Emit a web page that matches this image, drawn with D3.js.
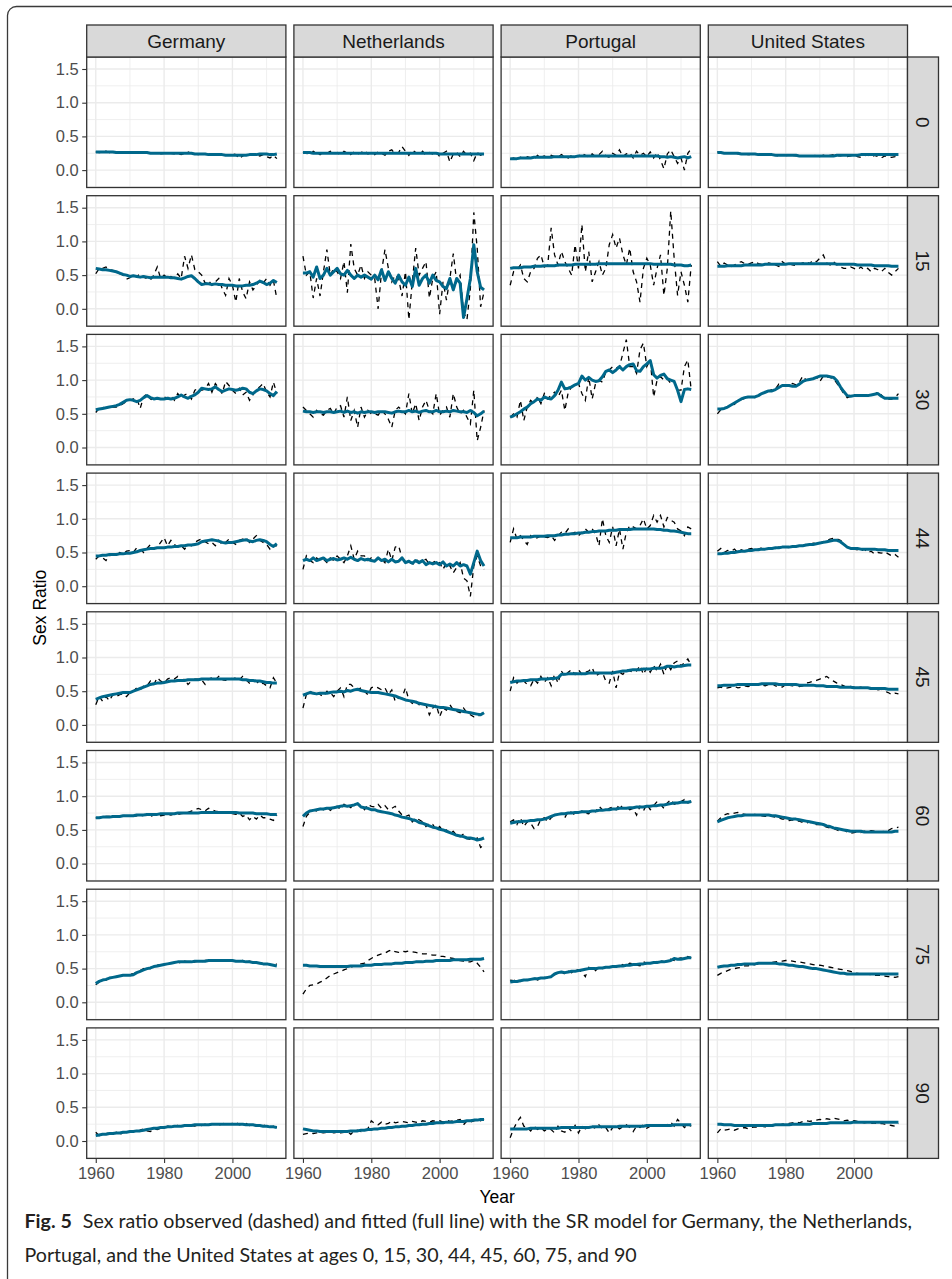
<!DOCTYPE html>
<html>
<head>
  <meta charset="utf-8">
  <title>Fig. 5 - Sex ratio observed and fitted</title>
  <style>
  * {
    margin: 0;
    padding: 0;
  }
  body {
    background: #fff;
  }
  </style>
</head>
<body>
  <script src="https://cdn.jsdelivr.net/npm/d3@7"></script>
  <script>
  var w = 952;
  var h = 1279;

  var countries = ["Germany", "Netherlands", "Portugal", "United States"];
  var ages = ["0", "15", "30", "44", "45", "60", "75", "90"];
  var years = d3.range(1960, 2014);
  var yTicks = [0, 0.5, 1, 1.5];
  var yMinor = [-0.25, 0.25, 0.75, 1.25];
  var xTicks = [1960, 1980, 2000];
  var xMinor = [1970, 1990, 2010];

  // observed sex ratio (dashed), one row per age, 1960..2013
  var obsGermany = [
    [.27,.26,.27,.28,.26,.27,.26,.25,.27,.26, .26,.25,.26,.27,.26,.25,.26,.25,.26,.24, .25,.26,.25,.24,.25,.23,.25,.27,.25,.24, .23,.24,.25,.23,.22,.24,.23,.22,.23,.22, .24,.23,.17,.21,.23,.22,.24,.23,.21,.23, .20,.18,.22,.17],
    [.52,.60,.60,.62,.58,.57,.55,.52,.50,.44, .46,.50,.48,.52,.47,.45,.43,.50,.62,.45, .50,.46,.48,.45,.52,.45,.78,.60,.80,.58, .55,.50,.38,.42,.35,.40,.45,.30,.20,.45, .35,.10,.45,.25,.15,.40,.28,.35,.42,.38, .45,.35,.42,.15],
    [.52,.58,.60,.58,.60,.60,.60,.62,.65,.68, .70,.72,.73,.58,.75,.80,.72,.70,.73,.72, .75,.73,.77,.70,.80,.73,.78,.80,.72,.85, .88,.85,.87,.95,.82,.95,.88,.80,.98,.92, .85,.80,.88,.78,.82,.70,.78,.86,.90,.95, .82,.75,.97,.80],
    [.40,.45,.42,.38,.45,.48,.45,.50,.48,.52, .53,.50,.57,.55,.50,.56,.62,.55,.58,.65, .72,.60,.68,.62,.58,.60,.55,.62,.60,.65, .68,.70,.66,.63,.65,.60,.68,.62,.65,.70, .65,.62,.68,.70,.72,.65,.70,.75,.68,.65, .62,.55,.60,.60],
    [.30,.42,.35,.42,.36,.45,.42,.45,.46,.42, .48,.50,.55,.52,.58,.58,.65,.60,.70,.65, .62,.68,.70,.68,.72,.65,.68,.60,.65,.68, .68,.67,.60,.68,.70,.67,.72,.67,.66,.70, .68,.70,.67,.72,.67,.62,.64,.65,.60,.62, .58,.55,.70,.62],
    [.68,.68,.69,.70,.70,.70,.71,.70,.72,.70, .72,.70,.71,.70,.72,.71,.70,.72,.73,.71, .72,.73,.72,.74,.73,.74,.75,.76,.78,.80, .82,.80,.78,.82,.80,.78,.77,.76,.75,.76, .74,.73,.75,.70,.72,.65,.70,.66,.72,.68, .68,.66,.64,.72],
    [.26,.30,.33,.33,.36,.37,.38,.40,.41,.41, .42,.42,.45,.47,.50,.51,.50,.54,.55,.56, .55,.57,.58,.60,.60,.58,.61,.60,.58,.60, .61,.60,.62,.62,.63,.62,.61,.63,.62,.61, .62,.60,.61,.62,.60,.61,.60,.58,.59,.58, .58,.56,.55,.57],
    [.13,.08,.10,.11,.12,.10,.13,.09,.13,.12, .13,.15,.14,.16,.18,.15,.14,.18,.17,.19, .20,.22,.21,.22,.23,.21,.22,.24,.23,.22, .24,.23,.25,.24,.25,.26,.24,.25,.27,.25, .26,.28,.24,.25,.26,.23,.24,.22,.23,.24, .22,.21,.22,.20]
  ];
  var obsNetherlands = [
    [.27,.25,.22,.28,.26,.23,.27,.25,.28,.24, .26,.22,.28,.25,.23,.27,.24,.26,.29,.24, .26,.23,.27,.25,.22,.28,.30,.24,.26,.35, .28,.22,.30,.26,.24,.28,.22,.26,.24,.27, .20,.25,.28,.12,.24,.26,.20,.28,.22,.25, .14,.26,.22,.24],
    [.78,.50,.55,.16,.45,.19,.55,.88,.50,.60, .55,.45,.70,.24,.96,.60,.50,.65,.45,.55, .50,.45,.00,.55,.88,.60,.40,.50,.45,.19, .55,-.16,.40,.90,.50,.60,.70,.16,.45,.55, -.08,.40,.13,.45,.82,.40,.50,-.05,-.16,.30, 1.43,.90,.03,.25],
    [.60,.55,.50,.45,.55,.50,.48,.55,.58,.50, .60,.62,.45,.75,.40,.55,.30,.60,.45,.55, .50,.50,.48,.55,.50,.42,.30,.55,.60,.55, .50,.80,.50,.65,.40,.60,.70,.55,.50,.80, .48,.55,.60,.45,.80,.60,.50,.55,.45,.35, .85,.10,.30,.55],
    [.25,.45,.38,.35,.42,.38,.40,.35,.42,.38, .45,.40,.35,.45,.60,.40,.52,.45,.45,.38, .42,.38,.40,.40,.35,.55,.38,.58,.60,.42, .35,.38,.30,.42,.35,.38,.40,.32,.35,.38, .35,.25,.35,.30,.20,.28,.35,.12,.08,-.15, .30,.45,.30,.25],
    [.25,.45,.50,.47,.50,.45,.42,.50,.48,.42, .50,.55,.42,.60,.60,.55,.52,.55,.50,.45, .55,.57,.55,.52,.55,.45,.52,.35,.40,.40, .55,.37,.32,.35,.30,.32,.30,.15,.25,.30, .12,.25,.22,.30,.22,.20,.18,.25,.18,.15, .12,.12,.15,.20],
    [.55,.70,.76,.80,.78,.82,.80,.84,.79,.83, .85,.80,.88,.86,.83,.90,.88,.86,.80,.88, .85,.84,.88,.82,.86,.80,.82,.85,.78,.72, .70,.72,.62,.68,.65,.62,.55,.60,.58,.50, .55,.48,.50,.45,.48,.42,.40,.44,.37,.36, .35,.38,.24,.28],
    [.12,.20,.25,.26,.27,.30,.32,.36,.40,.42, .44,.46,.48,.50,.52,.54,.55,.57,.58,.62, .65,.68,.70,.72,.73,.76,.78,.75,.74,.76, .75,.76,.75,.74,.73,.72,.72,.71,.70,.70, .68,.68,.67,.66,.65,.63,.62,.61,.60,.60, .62,.58,.52,.45],
    [.10,.11,.12,.11,.12,.13,.12,.13,.14,.12, .13,.12,.13,.14,.10,.15,.16,.14,.15,.18, .30,.26,.24,.28,.25,.26,.30,.27,.28,.29, .28,.27,.29,.28,.27,.30,.29,.28,.30,.29, .30,.28,.31,.29,.30,.31,.32,.24,.30,.28, .30,.31,.30,.33]
  ];
  var obsPortugal = [
    [.16,.18,.15,.19,.17,.20,.18,.16,.22,.19, .21,.18,.22,.20,.19,.23,.20,.18,.22,.21, .20,.25,.22,.19,.24,.20,.23,.28,.21,.19, .25,.22,.30,.20,.24,.26,.18,.28,.22,.25, .20,.27,.18,.26,.15,.02,.24,.30,.20,.10, .18,.00,.25,.32],
    [.35,.55,.58,.65,.45,.40,.55,.60,.75,.80, .62,.65,1.20,.80,.65,.85,.70,.60,.50,.95, .60,1.25,.55,.85,.40,.55,.70,.50,.60,.95, 1.10,.90,1.05,.80,.65,.90,.55,.40,.10,.60, .75,.65,.35,.60,.80,.20,.60,1.45,.75,.20, .55,.35,.10,.65],
    [.45,.50,.45,.70,.40,.60,.70,.65,.75,.65, .80,.72,.78,.82,.75,.85,.55,.82,.90,.92, .95,.80,.70,1.05,.72,.95,1.00,.97,1.12,1.15, 1.20,1.18,1.20,1.40,1.60,1.20,1.20,1.10,1.45,1.55, 1.20,1.30,.75,1.00,1.05,1.00,1.02,.95,.98,.85, .85,1.20,1.30,.85],
    [.65,.85,.70,.75,.68,.62,.75,.70,.72,.75, .73,.72,.75,.68,.75,.80,.78,.85,.78,.80, .75,.80,.85,.80,.85,.78,.60,1.00,.75,.65, .88,.60,.85,.55,.80,.90,.88,.85,.90,1.00, .85,.90,1.05,.95,1.05,.88,1.02,.98,.95,.85, .82,.75,.88,.85],
    [.50,.70,.62,.68,.65,.60,.58,.68,.62,.72, .63,.70,.58,.75,.62,.80,.72,.78,.82,.75, .82,.75,.78,.80,.85,.72,.76,.78,.65,.62, .80,.55,.78,.75,.82,.80,.78,.80,.88,.75, .85,.78,.88,.80,.90,.75,.90,.82,.92,.95, .88,.92,.98,.88],
    [.62,.65,.58,.68,.55,.62,.60,.52,.55,.66, .68,.62,.68,.72,.74,.73,.68,.78,.76,.72, .75,.78,.75,.74,.80,.77,.85,.80,.78,.82, .84,.80,.88,.82,.84,.80,.82,.72,.85,.78, .88,.80,.86,.92,.88,.82,.90,.95,.88,.90, .92,.95,.90,.92],
    [.33,.32,.35,.31,.36,.33,.34,.37,.33,.35, .37,.36,.39,.41,.43,.45,.42,.46,.44,.48, .48,.45,.38,.52,.50,.47,.53,.50,.52,.54, .52,.55,.53,.56,.54,.58,.57,.55,.54,.60, .58,.60,.58,.61,.62,.60,.62,.64,.62,.65, .66,.64,.68,.66],
    [.05,.18,.28,.35,.22,.20,.15,.22,.17,.20, .15,.18,.17,.12,.22,.15,.13,.20,.14,.23, .12,.22,.18,.20,.21,.19,.24,.18,.20,.12, .20,.22,.18,.21,.24,.20,.14,.22,.20,.24, .19,.22,.21,.23,.25,.22,.24,.28,.22,.32, .26,.20,.24,.22]
  ];
  var obsUnitedStates = [
    [.27,.26,.27,.25,.26,.26,.24,.25,.24,.23, .23,.24,.23,.22,.23,.22,.23,.22,.21,.22, .22,.21,.22,.21,.22,.21,.21,.20,.21,.22, .20,.22,.21,.22,.23,.22,.21,.22,.20,.21, .23,.20,.19,.21,.23,.19,.22,.20,.18,.21, .20,.19,.20,.22],
    [.70,.63,.68,.65,.62,.65,.68,.70,.67,.66, .68,.70,.67,.66,.65,.68,.67,.65,.63,.70, .66,.67,.65,.64,.66,.68,.70,.67,.72,.70, .75,.80,.68,.65,.70,.65,.62,.60,.60,.62, .60,.58,.62,.58,.60,.55,.60,.58,.55,.60, .54,.50,.55,.60],
    [.50,.56,.58,.60,.62,.64,.70,.71,.73,.74, .75,.74,.78,.80,.83,.84,.86,.87,.94,.92, .93,.91,.95,.93,.97,1.06,1.00,1.02,1.03,1.04, .98,1.06,1.05,1.04,1.02,.95,.88,.80,.74,.76, .76,.78,.79,.76,.76,.78,.79,.82,.78,.72, .72,.72,.74,.80],
    [.52,.56,.50,.53,.52,.55,.50,.54,.52,.55, .56,.53,.55,.57,.55,.56,.58,.56,.58,.59, .58,.57,.60,.59,.62,.60,.62,.61,.64,.63, .64,.66,.68,.70,.71,.70,.68,.64,.58,.55, .55,.54,.52,.55,.50,.52,.48,.50,.49,.51, .48,.45,.47,.43],
    [.55,.56,.54,.55,.56,.57,.55,.56,.58,.57, .58,.59,.60,.59,.58,.60,.61,.58,.57,.56, .60,.59,.58,.60,.57,.58,.62,.63,.65,.66, .68,.70,.72,.68,.65,.62,.60,.58,.55,.57, .56,.55,.56,.54,.55,.53,.54,.52,.53,.50, .48,.45,.47,.46],
    [.63,.68,.72,.74,.73,.75,.76,.74,.73,.72, .72,.73,.72,.71,.70,.72,.70,.69,.68,.66, .66,.64,.65,.63,.63,.61,.60,.62,.59,.58, .58,.56,.54,.53,.52,.50,.48,.50,.47,.45, .46,.47,.46,.48,.47,.49,.48,.46,.47,.48, .49,.52,.53,.54],
    [.40,.43,.45,.47,.49,.50,.51,.52,.54,.54, .55,.56,.57,.58,.58,.59,.59,.60,.61,.61, .62,.62,.61,.60,.60,.59,.58,.57,.56,.55, .55,.54,.53,.52,.51,.50,.49,.48,.47,.46, .44,.43,.42,.42,.42,.41,.40,.40,.40,.39, .38,.38,.37,.38],
    [.12,.18,.16,.17,.18,.16,.18,.19,.20,.18, .20,.21,.20,.22,.21,.23,.22,.24,.23,.25, .25,.26,.27,.28,.27,.29,.30,.29,.30,.31, .32,.31,.33,.32,.34,.33,.32,.30,.31,.29, .30,.29,.28,.27,.28,.26,.27,.25,.26,.25, .24,.23,.22,.26]
  ];

  // fitted sex ratio (full line)
  var fitGermany = [
    [.27,.27,.27,.27,.27,.27,.26,.26,.26,.26, .26,.26,.26,.26,.26,.26,.25,.25,.25,.25, .25,.25,.25,.25,.25,.25,.25,.25,.25,.24, .24,.24,.24,.23,.23,.23,.23,.23,.22,.22, .22,.22,.22,.22,.22,.23,.23,.23,.24,.24, .24,.23,.23,.24],
    [.60,.59,.58,.58,.57,.56,.55,.53,.51,.50, .48,.49,.48,.47,.48,.47,.46,.47,.47,.47, .47,.47,.46,.46,.45,.44,.46,.48,.49,.45, .40,.36,.37,.37,.36,.37,.36,.36,.35,.35, .35,.34,.34,.34,.35,.35,.36,.38,.41,.39, .36,.38,.42,.39],
    [.56,.57,.58,.59,.60,.61,.62,.64,.67,.70, .71,.70,.68,.70,.74,.77,.74,.72,.73,.72, .72,.73,.72,.73,.75,.78,.75,.73,.76,.78, .82,.88,.87,.86,.87,.90,.86,.83,.85,.87, .86,.85,.86,.88,.87,.82,.80,.84,.87,.86, .84,.80,.77,.83],
    [.45,.45,.46,.46,.47,.47,.47,.48,.48,.49, .49,.50,.51,.53,.54,.55,.56,.56,.57,.57, .57,.58,.58,.59,.59,.60,.60,.61,.61,.62, .63,.66,.67,.68,.69,.68,.67,.65,.64,.65, .65,.66,.67,.68,.69,.67,.66,.68,.69,.68, .66,.62,.59,.63],
    [.38,.40,.42,.43,.44,.45,.46,.47,.48,.48, .48,.50,.52,.54,.56,.58,.60,.61,.62,.62, .63,.64,.65,.65,.66,.66,.66,.67,.67,.67, .67,.68,.68,.68,.68,.68,.68,.68,.68,.68, .68,.68,.68,.67,.67,.66,.66,.65,.65,.64, .63,.63,.62,.62],
    [.68,.68,.69,.69,.69,.70,.70,.70,.71,.71, .71,.71,.72,.72,.72,.73,.73,.73,.73,.74, .74,.74,.74,.74,.75,.75,.75,.75,.75,.75, .75,.76,.76,.76,.76,.76,.76,.76,.76,.76, .76,.76,.75,.75,.75,.75,.75,.74,.74,.74, .74,.73,.73,.73],
    [.28,.31,.33,.34,.36,.37,.38,.39,.40,.40, .40,.41,.44,.46,.48,.50,.51,.53,.54,.55, .56,.57,.58,.59,.60,.60,.60,.60,.60,.61, .61,.61,.61,.62,.62,.62,.62,.62,.62,.62, .62,.61,.61,.61,.60,.60,.59,.59,.58,.57, .57,.56,.55,.54],
    [.08,.09,.10,.10,.11,.11,.12,.12,.13,.13, .14,.14,.15,.15,.16,.17,.18,.19,.19,.20, .20,.21,.21,.22,.22,.22,.23,.23,.23,.24, .24,.24,.24,.24,.25,.25,.25,.25,.25,.25, .25,.25,.25,.25,.24,.24,.24,.23,.23,.22, .22,.21,.21,.20]
  ];
  var fitNetherlands = [
    [.26,.26,.26,.25,.25,.25,.25,.25,.25,.25, .25,.25,.25,.25,.25,.25,.25,.25,.25,.25, .25,.25,.25,.25,.25,.25,.25,.25,.25,.25, .25,.25,.25,.25,.25,.25,.25,.25,.25,.25, .24,.24,.24,.24,.24,.24,.24,.24,.24,.24, .24,.24,.24,.24],
    [.53,.53,.55,.47,.62,.45,.50,.60,.50,.55, .60,.52,.50,.57,.50,.45,.50,.47,.50,.47, .44,.50,.43,.58,.42,.55,.45,.38,.50,.40, .35,.47,.33,.60,.35,.45,.50,.38,.50,.42, .40,.33,.30,.45,.28,.45,.38,-.13,.15,.45, .95,.55,.32,.28],
    [.54,.53,.53,.52,.53,.53,.52,.53,.53,.52, .53,.54,.52,.54,.52,.53,.51,.53,.52,.53, .53,.52,.53,.53,.53,.52,.51,.53,.54,.53, .53,.55,.53,.54,.52,.54,.55,.53,.53,.55, .53,.53,.54,.53,.55,.54,.53,.53,.52,.55, .52,.47,.50,.54],
    [.38,.40,.38,.42,.38,.40,.42,.38,.40,.41, .39,.40,.42,.40,.43,.40,.38,.41,.39,.40, .38,.37,.42,.38,.40,.36,.40,.36,.37,.42, .35,.37,.34,.38,.35,.38,.32,.35,.33,.35, .32,.36,.30,.33,.30,.35,.30,.32,.30,.18, .35,.52,.38,.30],
    [.44,.46,.48,.47,.46,.47,.47,.47,.48,.49, .49,.50,.49,.51,.50,.52,.53,.51,.50,.49, .48,.48,.48,.47,.46,.45,.44,.43,.41,.39, .37,.36,.35,.34,.32,.31,.30,.29,.28,.27, .26,.26,.25,.24,.23,.22,.21,.20,.19,.18, .17,.16,.15,.18],
    [.70,.75,.78,.79,.80,.81,.81,.82,.82,.83, .84,.85,.86,.85,.86,.87,.89,.84,.83,.82, .80,.80,.78,.77,.76,.75,.74,.72,.71,.69, .68,.67,.65,.64,.61,.60,.58,.56,.54,.53, .51,.50,.48,.46,.44,.42,.41,.40,.38,.38, .37,.35,.36,.38],
    [.55,.55,.54,.54,.54,.53,.53,.53,.53,.53, .53,.53,.53,.53,.54,.54,.54,.54,.55,.55, .55,.56,.56,.56,.57,.57,.57,.58,.58,.58, .59,.59,.59,.60,.60,.60,.61,.61,.61,.62, .62,.62,.62,.62,.63,.63,.63,.63,.63,.64, .64,.64,.64,.65],
    [.18,.17,.16,.15,.15,.14,.14,.14,.14,.14, .14,.14,.14,.14,.15,.15,.15,.16,.16,.17, .17,.18,.18,.19,.19,.20,.20,.21,.21,.22, .22,.23,.23,.24,.24,.25,.25,.26,.26,.27, .27,.27,.28,.28,.28,.29,.29,.29,.30,.30, .31,.31,.32,.32]
  ];
  var fitPortugal = [
    [.17,.17,.17,.18,.18,.18,.18,.19,.19,.19, .19,.19,.19,.20,.20,.20,.20,.20,.20,.20, .21,.21,.21,.21,.21,.21,.21,.21,.21,.21, .21,.21,.21,.21,.21,.21,.21,.21,.21,.21, .21,.21,.21,.21,.20,.20,.19,.20,.19,.18, .19,.20,.18,.20],
    [.60,.61,.61,.61,.62,.62,.62,.63,.63,.63, .64,.64,.64,.64,.65,.65,.65,.65,.65,.66, .66,.66,.66,.66,.66,.66,.67,.67,.67,.67, .67,.67,.67,.67,.67,.67,.67,.67,.67,.67, .67,.67,.66,.66,.66,.66,.66,.66,.65,.65, .65,.64,.64,.65],
    [.45,.47,.50,.53,.57,.60,.65,.68,.72,.70, .75,.73,.72,.77,.85,.97,.87,.88,.90,.93, .95,1.06,1.00,1.04,1.00,.98,.99,1.05,1.13,1.15, 1.11,1.15,1.20,1.15,1.20,1.23,1.24,1.14,1.13,1.20, 1.24,1.29,1.08,1.03,1.07,1.09,1.02,1.00,.98,.85, .68,.86,.87,.86],
    [.72,.72,.72,.73,.73,.73,.73,.74,.74,.74, .74,.75,.75,.75,.76,.76,.77,.77,.78,.78, .79,.79,.80,.80,.81,.81,.82,.82,.82,.83, .83,.83,.84,.84,.84,.84,.85,.85,.85,.85, .85,.85,.85,.84,.84,.83,.83,.82,.82,.81, .80,.79,.78,.78],
    [.63,.64,.65,.65,.66,.66,.67,.67,.67,.68, .68,.68,.69,.69,.70,.75,.75,.76,.76,.76, .76,.76,.76,.77,.77,.77,.77,.77,.77,.77, .77,.78,.79,.80,.80,.81,.82,.82,.82,.83, .83,.83,.84,.84,.84,.85,.87,.87,.86,.87, .87,.88,.89,.89],
    [.60,.61,.62,.62,.63,.63,.64,.64,.65,.65, .66,.68,.70,.72,.73,.74,.74,.75,.75,.76, .76,.77,.77,.77,.78,.78,.79,.79,.80,.80, .81,.81,.82,.82,.82,.83,.83,.84,.84,.84, .85,.85,.86,.86,.87,.87,.88,.89,.90,.90, .91,.91,.91,.92],
    [.30,.31,.31,.32,.33,.33,.34,.35,.35,.36, .36,.37,.38,.42,.44,.45,.44,.45,.46,.46, .47,.48,.49,.50,.50,.50,.51,.51,.52,.52, .53,.53,.54,.54,.55,.55,.56,.56,.57,.57, .58,.58,.59,.59,.60,.60,.61,.62,.65,.64, .64,.65,.66,.66],
    [.18,.18,.18,.18,.18,.18,.19,.19,.19,.19, .19,.19,.19,.19,.19,.20,.20,.20,.20,.20, .20,.20,.20,.20,.21,.21,.21,.21,.21,.21, .21,.21,.22,.22,.22,.22,.22,.22,.22,.22, .23,.23,.23,.23,.23,.23,.23,.23,.24,.24, .24,.24,.24,.24]
  ];
  var fitUnitedStates = [
    [.26,.26,.25,.25,.25,.25,.25,.24,.24,.24, .24,.24,.23,.23,.23,.23,.23,.22,.22,.22, .22,.22,.22,.22,.21,.21,.21,.21,.21,.21, .21,.21,.21,.21,.21,.22,.22,.22,.22,.22, .22,.22,.23,.23,.23,.23,.23,.23,.23,.23, .23,.23,.23,.23],
    [.63,.63,.63,.64,.64,.64,.64,.64,.65,.65, .65,.65,.65,.65,.66,.66,.66,.66,.66,.66, .66,.67,.67,.67,.67,.67,.67,.67,.67,.67, .67,.67,.67,.67,.67,.66,.66,.66,.66,.66, .66,.65,.65,.65,.65,.65,.64,.64,.64,.64, .64,.63,.63,.63],
    [.57,.57,.58,.60,.63,.66,.69,.72,.74,.75, .75,.75,.77,.80,.82,.84,.84,.86,.89,.92, .92,.92,.91,.91,.94,.98,1.00,1.01,1.02,1.04, 1.06,1.06,1.06,1.05,1.04,.99,.90,.83,.77,.76, .77,.77,.77,.77,.77,.78,.79,.80,.76,.73, .73,.73,.73,.73],
    [.48,.48,.49,.49,.50,.50,.51,.52,.52,.53, .53,.54,.54,.55,.55,.56,.56,.57,.57,.58, .58,.58,.59,.59,.60,.60,.61,.62,.62,.63, .64,.65,.66,.67,.68,.68,.66,.62,.58,.56, .56,.56,.55,.55,.55,.55,.55,.54,.54,.54, .53,.53,.53,.53],
    [.58,.58,.59,.59,.59,.59,.60,.60,.60,.60, .60,.60,.60,.61,.61,.61,.61,.61,.60,.60, .60,.60,.60,.60,.59,.59,.59,.59,.59,.58, .58,.58,.57,.57,.57,.57,.56,.56,.56,.56, .55,.55,.55,.55,.55,.54,.54,.54,.54,.54, .53,.53,.53,.53],
    [.62,.64,.66,.68,.69,.70,.71,.71,.72,.72, .72,.72,.72,.72,.72,.72,.71,.71,.70,.69, .68,.67,.66,.66,.65,.64,.63,.62,.61,.60, .59,.58,.56,.55,.53,.52,.51,.50,.49,.48, .48,.48,.48,.47,.47,.47,.47,.47,.47,.47, .47,.47,.48,.48],
    [.52,.53,.54,.54,.55,.55,.56,.56,.57,.57, .57,.57,.58,.58,.58,.58,.58,.58,.57,.57, .56,.55,.55,.54,.53,.53,.52,.51,.50,.50, .49,.48,.47,.46,.45,.44,.43,.43,.42,.42, .42,.42,.42,.42,.42,.42,.42,.42,.42,.42, .42,.42,.42,.42],
    [.25,.25,.24,.24,.24,.23,.23,.23,.23,.23, .23,.23,.23,.23,.23,.23,.23,.24,.24,.24, .24,.24,.25,.25,.25,.25,.25,.25,.26,.26, .26,.26,.26,.27,.27,.27,.27,.27,.27,.27, .28,.28,.28,.28,.28,.28,.28,.28,.28,.28, .28,.28,.28,.28]
  ];

  var observed = [obsGermany, obsNetherlands, obsPortugal, obsUnitedStates];
  var fitted = [fitGermany, fitNetherlands, fitPortugal, fitUnitedStates];

  var captionLine1 = "Sex ratio observed (dashed) and fitted (full line) with the SR model for Germany, the Netherlands,";
  var captionLine2 = "Portugal, and the United States at ages 0, 15, 30, 44, 45, 60, 75, and 90";

  // layout
  var panelLeft = 86.7, panelTop = 57;
  var panelW = 199.2, panelH = 130.5;
  var stepX = 207.2, stepY = 138.7;
  var stripH = 32, stripW = 31;
  var fitColor = "#00688B";
  var axisFont = "'Liberation Sans', Arial, Helvetica, sans-serif";

  var xScale = d3.scaleLinear().domain([1957.35, 2015.65]).range([0, panelW]);
  var yScale = d3.scaleLinear().domain([-0.258, 1.678]).range([panelH, 0]);

  var svg = d3.select("body")
    .append("svg")
    .attr("width", w)
    .attr("height", h);

  // figure frame
  svg.append("rect")
    .attr("x", 7.5).attr("y", 6.5)
    .attr("width", 960).attr("height", 1300)
    .attr("rx", 9)
    .attr("fill", "none")
    .attr("stroke", "#3a3a3a")
    .attr("stroke-width", 1.3);

  var line = d3.line()
    .x(function(d, i) { return xScale(years[i]); })
    .y(function(d) { return yScale(d); });

  countries.forEach(function(country, c) {
    ages.forEach(function(age, r) {
      var g = svg.append("g")
        .attr("transform", "translate(" + (panelLeft + c * stepX) + "," + (panelTop + r * stepY) + ")");

      g.append("rect")
        .attr("width", panelW).attr("height", panelH)
        .attr("fill", "#fff");

      // grid
      g.selectAll(".minorY").data(yMinor).enter().append("line")
        .attr("x1", 0).attr("x2", panelW)
        .attr("y1", function(d) { return yScale(d); })
        .attr("y2", function(d) { return yScale(d); })
        .attr("stroke", "#ebebeb").attr("stroke-width", 0.8);
      g.selectAll(".minorX").data(xMinor).enter().append("line")
        .attr("y1", 0).attr("y2", panelH)
        .attr("x1", function(d) { return xScale(d); })
        .attr("x2", function(d) { return xScale(d); })
        .attr("stroke", "#ebebeb").attr("stroke-width", 0.8);
      g.selectAll(".majorY").data(yTicks).enter().append("line")
        .attr("x1", 0).attr("x2", panelW)
        .attr("y1", function(d) { return yScale(d); })
        .attr("y2", function(d) { return yScale(d); })
        .attr("stroke", "#ebebeb").attr("stroke-width", 1.4);
      g.selectAll(".majorX").data(xTicks).enter().append("line")
        .attr("y1", 0).attr("y2", panelH)
        .attr("x1", function(d) { return xScale(d); })
        .attr("x2", function(d) { return xScale(d); })
        .attr("stroke", "#ebebeb").attr("stroke-width", 1.4);

      // observed (dashed)
      g.append("path")
        .datum(observed[c][r])
        .attr("d", line)
        .attr("fill", "none")
        .attr("stroke", "#000")
        .attr("stroke-width", 1.3)
        .attr("stroke-dasharray", "5,4.5");

      // fitted
      g.append("path")
        .datum(fitted[c][r])
        .attr("d", line)
        .attr("fill", "none")
        .attr("stroke", fitColor)
        .attr("stroke-width", 3)
        .attr("stroke-linejoin", "round");

      g.append("rect")
        .attr("width", panelW).attr("height", panelH)
        .attr("fill", "none")
        .attr("stroke", "#333")
        .attr("stroke-width", 1.3);

      if (c === 0) {
        var ya = g.append("g")
          .call(d3.axisLeft(yScale).tickValues(yTicks).tickFormat(d3.format(".1f")).tickSize(4.5).tickPadding(3.5));
        ya.select(".domain").remove();
        ya.selectAll("line").attr("stroke", "#333").attr("stroke-width", 1.1);
        ya.selectAll("text").attr("fill", "#4d4d4d").attr("font-size", "16.5px").attr("font-family", axisFont);
      }
      if (r === ages.length - 1) {
        var xa = g.append("g")
          .attr("transform", "translate(0," + panelH + ")")
          .call(d3.axisBottom(xScale).tickValues(xTicks).tickFormat(d3.format("d")).tickSize(4.5).tickPadding(4));
        xa.select(".domain").remove();
        xa.selectAll("line").attr("stroke", "#333").attr("stroke-width", 1.1);
        xa.selectAll("text").attr("fill", "#4d4d4d").attr("font-size", "16.5px").attr("font-family", axisFont);
      }
    });
  });

  // top strips
  countries.forEach(function(country, c) {
    var x0 = panelLeft + c * stepX;
    svg.append("rect")
      .attr("x", x0).attr("y", panelTop - stripH)
      .attr("width", panelW).attr("height", stripH)
      .attr("fill", "#d9d9d9").attr("stroke", "#333").attr("stroke-width", 1.3);
    svg.append("text")
      .attr("x", x0 + panelW / 2).attr("y", panelTop - stripH / 2)
      .attr("dy", "0.36em")
      .attr("text-anchor", "middle")
      .attr("font-family", axisFont)
      .attr("font-size", "19px")
      .attr("fill", "#1a1a1a")
      .text(country);
  });

  // right strips
  var stripX = panelLeft + (countries.length - 1) * stepX + panelW;
  ages.forEach(function(age, r) {
    var y0 = panelTop + r * stepY;
    svg.append("rect")
      .attr("x", stripX).attr("y", y0)
      .attr("width", stripW).attr("height", panelH)
      .attr("fill", "#d9d9d9").attr("stroke", "#333").attr("stroke-width", 1.3);
    svg.append("text")
      .attr("transform", "translate(" + (stripX + stripW / 2) + "," + (y0 + panelH / 2) + ") rotate(90)")
      .attr("dy", "0.36em")
      .attr("text-anchor", "middle")
      .attr("font-family", axisFont)
      .attr("font-size", "19px")
      .attr("fill", "#1a1a1a")
      .text(age);
  });

  // axis titles
  var panelsRight = panelLeft + (countries.length - 1) * stepX + panelW;
  var panelsBottom = panelTop + (ages.length - 1) * stepY + panelH;
  svg.append("text")
    .attr("x", (panelLeft + panelsRight) / 2).attr("y", 1203)
    .attr("text-anchor", "middle")
    .attr("font-family", axisFont)
    .attr("font-size", "17.5px")
    .attr("fill", "#000")
    .text("Year");
  svg.append("text")
    .attr("transform", "translate(46," + (panelTop + panelsBottom) / 2 + ") rotate(-90)")
    .attr("text-anchor", "middle")
    .attr("font-family", axisFont)
    .attr("font-size", "17.5px")
    .attr("fill", "#000")
    .text("Sex Ratio");

  // caption
  var capFont = "Lato, 'Open Sans', 'Noto Sans', sans-serif";
  var cap1 = svg.append("text")
    .attr("x", 24.5).attr("y", 1228)
    .attr("font-family", capFont)
    .attr("font-size", "16px")
    .attr("fill", "#231f20");
  cap1.append("tspan").attr("font-weight", "bold").text("Fig. 5");
  cap1.append("tspan").attr("dx", 11).text(captionLine1);
  var cap2 = svg.append("text")
    .attr("x", 24.5).attr("y", 1262)
    .attr("font-family", capFont)
    .attr("font-size", "16px")
    .attr("fill", "#231f20")
    .text(captionLine2);

  // fit caption width to the reference line length
  var target = 877;
  var measured = cap1.node().getComputedTextLength();
  if (measured > 0) {
    var fs = 16 * target / measured;
    cap1.attr("font-size", fs + "px");
    cap2.attr("font-size", fs + "px");
  }
  </script>
</body>
</html>
